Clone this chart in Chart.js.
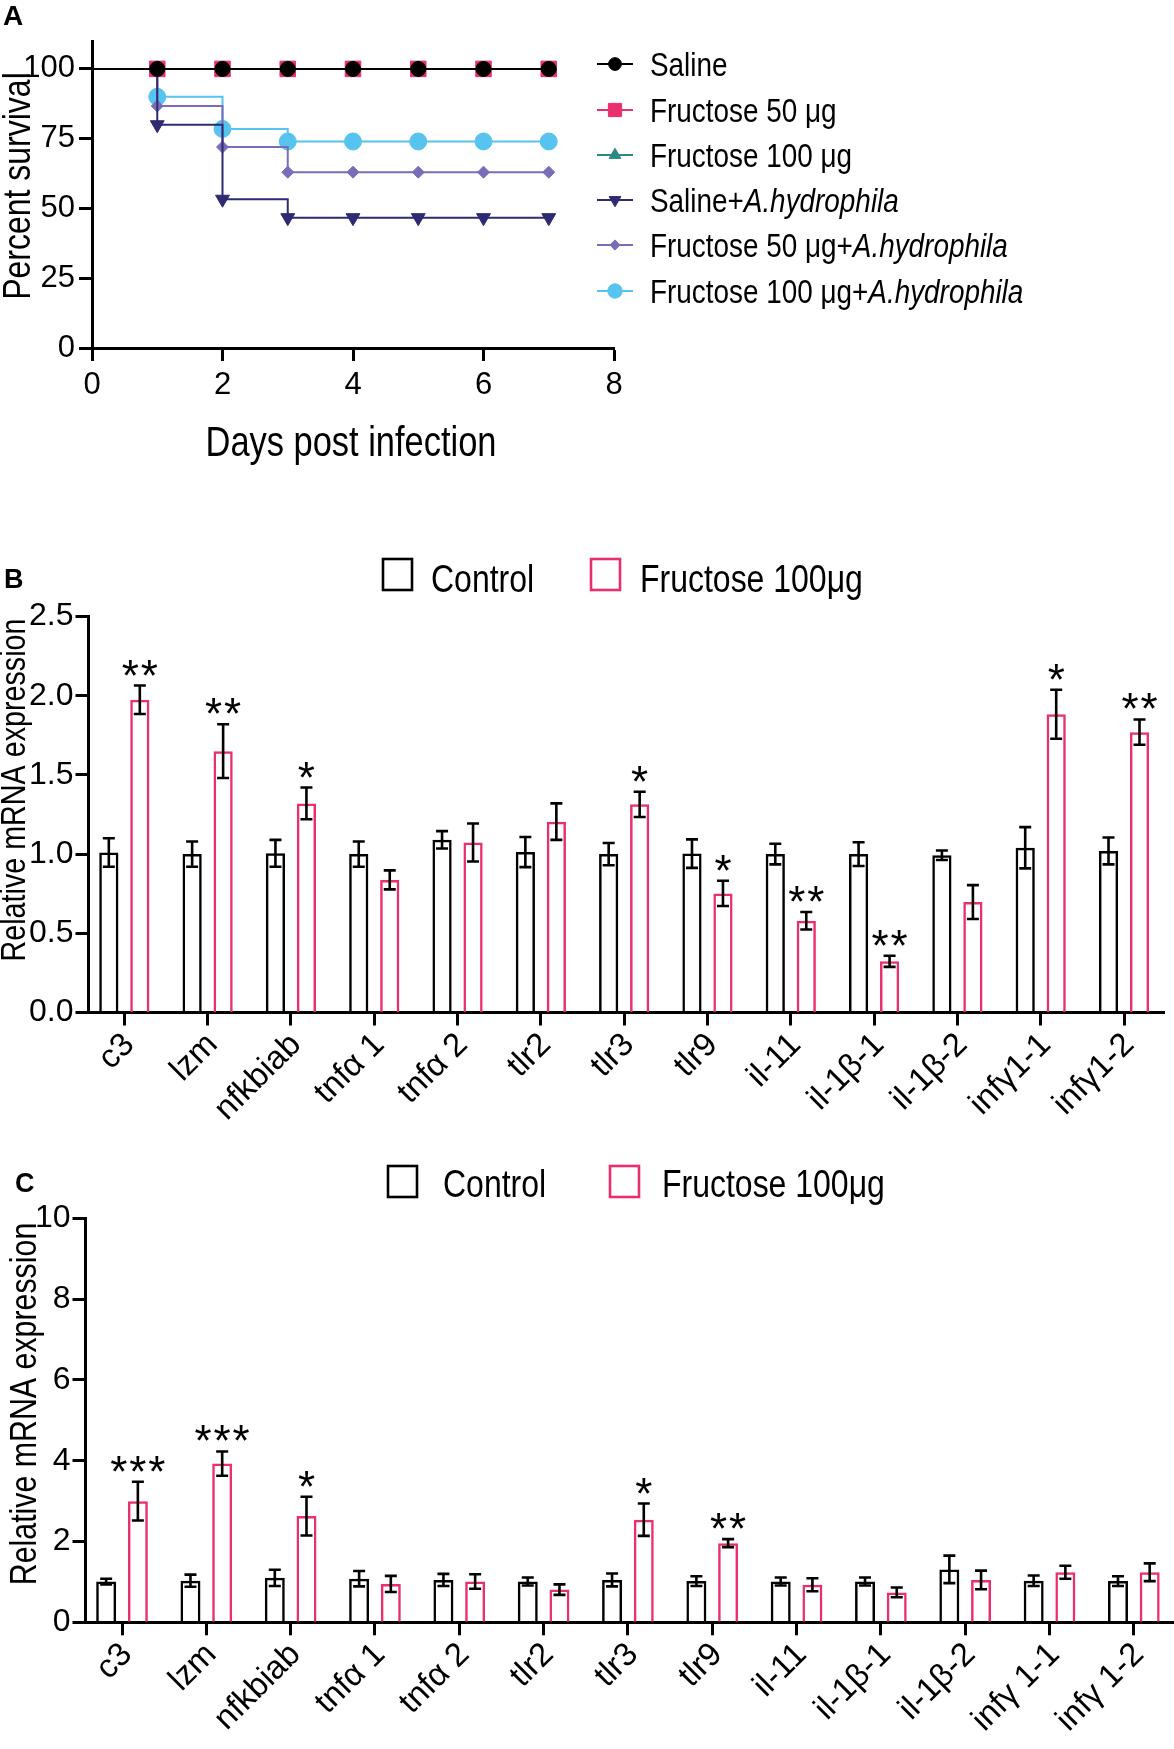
<!DOCTYPE html>
<html><head><meta charset="utf-8">
<script src="https://cdn.jsdelivr.net/npm/chart.js@4.4.1/dist/chart.umd.min.js"></script>
<style>
html,body{margin:0;padding:0;background:#fff;overflow:hidden;width:1174px;height:1749px;}
#wrap{position:relative;width:1174px;height:1749px;overflow:hidden;background:#fff;}
canvas{position:absolute;left:0;}
</style></head><body>
<div id="wrap">
<canvas id="cA" width="1174" height="480" style="top:0px"></canvas>
<canvas id="cB" width="1174" height="630" style="top:490px"></canvas>
<canvas id="cC" width="1180" height="629" style="top:1120px"></canvas>
</div>
<script>
// ---------------- Panel A data ----------------
const days = [0, 1, 2, 3, 4, 5, 6, 7];
const survSaline      = [100, 100, 100, 100, 100, 100, 100, 100];
const survFru50       = [100, 100, 100, 100, 100, 100, 100, 100];
const survFru100      = [100, 100, 100, 100, 100, 100, 100, 100];
const survSalineAh    = [100, 80, 53.3, 46.7, 46.7, 46.7, 46.7, 46.7];
const survFru50Ah     = [100, 86.7, 72, 63, 63, 63, 63, 63];
const survFru100Ah    = [100, 90, 78.5, 74, 74, 74, 74, 74];
const seriesNamesA = ['Saline', 'Fructose 50 μg', 'Fructose 100 μg', 'Saline+A.hydrophila',
                      'Fructose 50 μg+A.hydrophila', 'Fructose 100 μg+A.hydrophila'];
const xTicksA = [0, 2, 4, 6, 8];
const yTicksA = [0, 25, 50, 75, 100];

// ---------------- Panels B / C data ----------------
const genesB = ['c3', 'lzm', 'nfkbiab', 'tnfα 1', 'tnfα 2', 'tlr2', 'tlr3', 'tlr9', 'il-11', 'il-1β-1', 'il-1β-2', 'infγ1-1', 'infγ1-2'];
const genesC = ['c3', 'lzm', 'nfkbiab', 'tnfα 1', 'tnfα 2', 'tlr2', 'tlr3', 'tlr9', 'il-11', 'il-1β-1', 'il-1β-2', 'infγ 1-1', 'infγ 1-2'];
const groupNames = ['Control', 'Fructose 100μg'];

const ctrlB    = [1.01, 1.00, 1.005, 1.00, 1.09, 1.013, 1.00, 1.003, 1.00, 1.00, 0.993, 1.04, 1.02];
const ctrlBErr = [0.09, 0.08, 0.085, 0.08, 0.055, 0.095, 0.07, 0.09, 0.065, 0.075, 0.03, 0.13, 0.085];
const fruB     = [1.974, 1.65, 1.32, 0.837, 1.073, 1.205, 1.314, 0.752, 0.579, 0.323, 0.697, 1.883, 1.77];
const fruBErr  = [0.09, 0.17, 0.10, 0.06, 0.12, 0.115, 0.08, 0.08, 0.055, 0.035, 0.107, 0.155, 0.08];
const starsB   = ['**', '**', '*', '', '', '', '*', '*', '**', '**', '', '*', '**'];
const yTicksB  = [0, 0.5, 1.0, 1.5, 2.0, 2.5];
const yTickLabelsB = ['0.0', '0.5', '1.0', '1.5', '2.0', '2.5'];

const ctrlC    = [1.01, 1.03, 1.10, 1.08, 1.05, 1.01, 1.05, 1.02, 1.01, 1.01, 1.31, 1.03, 1.02];
const ctrlCErr = [0.07, 0.15, 0.20, 0.19, 0.15, 0.10, 0.16, 0.12, 0.10, 0.10, 0.34, 0.13, 0.12];
const fruC     = [3.00, 3.93, 2.63, 0.95, 1.01, 0.81, 2.54, 1.96, 0.93, 0.74, 1.05, 1.24, 1.24];
const fruCErr  = [0.48, 0.30, 0.48, 0.20, 0.18, 0.13, 0.40, 0.10, 0.16, 0.12, 0.23, 0.16, 0.22];
const starsC   = ['***', '***', '*', '', '', '', '*', '**', '', '', '', '', ''];
const yTicksC  = [0, 2, 4, 6, 8, 10];
const yTickLabelsC = ['0', '2', '4', '6', '8', '10'];

// ---------------- fonts ----------------
const REG = '"Liberation Sans", Arial, sans-serif';
const SX = 0.82; // horizontal squeeze used to imitate the condensed face of the original
Chart.defaults.font.family = REG;
Chart.defaults.color = '#000';

function condText(ctx, text, x, y, size, opts) {
  opts = opts || {};
  ctx.save();
  ctx.translate(x, y);
  if (opts.rot) ctx.rotate(opts.rot);
  ctx.scale(SX, 1);
  ctx.font = (opts.italic ? 'italic ' : '') + size + 'px ' + REG;
  ctx.textAlign = opts.align || 'left';
  ctx.textBaseline = opts.baseline || 'alphabetic';
  ctx.fillStyle = '#000';
  ctx.fillText(text, 0, 0);
  const w = ctx.measureText(text).width * SX;
  ctx.restore();
  return w;
}

const PINK = '#e8306e';
const AXIS = { display: true, color: '#000', width: 3 };
const GRID = { display: true, offset: false, drawOnChartArea: false, drawTicks: true, tickLength: 13, tickWidth: 3, tickColor: '#000' };
const fixY = w => s => { s.width = w; s.paddingTop = 0; s.paddingBottom = 0; };
const fixX = h => s => { s.height = h; s.paddingLeft = 0; s.paddingRight = 0; };

// ---------------- Panel A ----------------
const stylesA = [
  { color: '#000000', style: 'circle', r: 7.5, rot: 0 },
  { color: PINK, style: 'rect', r: 11, rot: 0 },
  { color: '#2a8a82', style: 'triangle', r: 8, rot: 0 },
  { color: '#2f2b72', style: 'triangle', r: 8, rot: 180 },
  { color: '#7b6cb8', style: 'rectRot', r: 6, rot: 0 },
  { color: '#56c4ee', style: 'circle', r: 8.5, rot: 0 }
];
const seriesA = [survSaline, survFru50, survFru100, survSalineAh, survFru50Ah, survFru100Ah];

function drawMarker(ctx, st, x, y, r) {
  if (Chart.helpers && Chart.helpers.drawPoint) {
    ctx.fillStyle = st.color; ctx.strokeStyle = st.color; ctx.lineWidth = 1;
    Chart.helpers.drawPoint(ctx, { pointStyle: st.style, rotation: st.rot, radius: r, borderWidth: 1 }, x, y);
  }
}

const decorAPlugin = {
  id: 'decorA',
  afterDraw(chart) {
    const ctx = chart.ctx;
    const ca = chart.chartArea;
    ctx.save();
    ctx.fillStyle = '#000';
    ctx.font = 'bold 28px ' + REG;
    ctx.textAlign = 'left'; ctx.textBaseline = 'alphabetic';
    ctx.fillText('A', 3, 25);
    // axis titles
    condText(ctx, 'Percent survival', 30, 186, 39, { rot: -Math.PI / 2, align: 'center' });
    condText(ctx, 'Days post infection', (ca.left + ca.right) / 2 - 2, 456, 42, { align: 'center' });
    // legend
    const ys = [64, 110, 155, 200, 245, 291];
    seriesNamesA.forEach((name, i) => {
      const st = stylesA[i];
      const y = ys[i];
      ctx.strokeStyle = st.color; ctx.lineWidth = 2;
      ctx.beginPath(); ctx.moveTo(597, y); ctx.lineTo(633, y); ctx.stroke();
      drawMarker(ctx, st, 615, y, st.r * 0.85);
      const parts = name.split('A.hydrophila');
      let x = 650;
      x += condText(ctx, parts[0], x, y + 12, 34);
      if (parts.length > 1) condText(ctx, 'A.hydrophila', x, y + 12, 34, { italic: true });
    });
    ctx.restore();
  }
};

new Chart(document.getElementById('cA'), {
  type: 'line',
  data: {
    datasets: seriesA.map((arr, k) => ({
      label: seriesNamesA[k],
      data: days.map((d, i) => ({ x: d, y: arr[i] })),
      stepped: true,
      borderColor: stylesA[k].color,
      backgroundColor: stylesA[k].color,
      borderWidth: 2,
      pointStyle: stylesA[k].style,
      pointRotation: stylesA[k].rot,
      pointRadius: days.map(d => d === 0 ? 0 : stylesA[k].r),
      pointBorderWidth: 1,
      fill: false
    }))
  },
  options: {
    responsive: false, animation: false, devicePixelRatio: 1,
    layout: { padding: { left: 0, top: 41, right: 560, bottom: 0 } },
    plugins: { legend: { display: false }, tooltip: { enabled: false } },
    scales: {
      x: {
        type: 'linear', min: 0, max: 8, offset: false,
        afterBuildTicks: s => { s.ticks = xTicksA.map(v => ({ value: v })); },
        ticks: { font: { size: 31 }, color: '#000', padding: 6, maxRotation: 0 },
        grid: GRID, border: AXIS,
        afterFit: fixX(132)
      },
      y: {
        type: 'linear', min: 0, max: 110,
        afterBuildTicks: s => { s.ticks = yTicksA.map(v => ({ value: v })); },
        ticks: { font: { size: 31 }, color: '#000', padding: 4 },
        grid: GRID, border: AXIS,
        afterFit: fixY(92)
      }
    }
  },
  plugins: [decorAPlugin]
});

// ---------------- Panels B & C ----------------
function makeBarPanel(cfg) {
  const annot = {
    id: 'annot' + cfg.letter,
    afterDatasetsDraw(chart) {
      const ctx = chart.ctx;
      const ys = chart.scales.y;
      ctx.save();
      // error bars
      cfg.series.forEach((ser, d) => {
        const meta = chart.getDatasetMeta(d);
        meta.data.forEach((el, i) => {
          const top = ys.getPixelForValue(ser.vals[i] + ser.errs[i]);
          const bot = ys.getPixelForValue(ser.vals[i] - ser.errs[i]);
          ctx.strokeStyle = '#000'; ctx.lineWidth = 2.6; ctx.lineCap = 'butt';
          ctx.beginPath();
          ctx.moveTo(el.x, top); ctx.lineTo(el.x, bot);
          ctx.moveTo(el.x - 6, top); ctx.lineTo(el.x + 6, top);
          ctx.moveTo(el.x - 6, bot); ctx.lineTo(el.x + 6, bot);
          ctx.stroke();
        });
      });
      // significance stars above the fructose bars
      const meta = chart.getDatasetMeta(1);
      const ser = cfg.series[1];
      ctx.fillStyle = '#000';
      ctx.font = '44px ' + REG;
      ctx.textAlign = 'center'; ctx.textBaseline = 'alphabetic';
      const m = ctx.measureText('*');
      meta.data.forEach((el, i) => {
        const s = cfg.stars[i];
        if (!s) return;
        const top = ys.getPixelForValue(ser.vals[i] + ser.errs[i]);
        const base = top - 10 - m.actualBoundingBoxDescent;
        const n = s.length, gap = 19;
        for (let k = 0; k < n; k++) {
          ctx.fillText('*', el.x + (k - (n - 1) / 2) * gap, base);
        }
      });
      ctx.restore();
    },
    afterDraw(chart) {
      const ctx = chart.ctx;
      const off = cfg.canvasTop;
      ctx.save();
      ctx.fillStyle = '#000';
      ctx.font = 'bold 27px ' + REG;
      ctx.textAlign = 'left'; ctx.textBaseline = 'alphabetic';
      ctx.fillText(cfg.letter, cfg.letterPos[0], cfg.letterPos[1] - off);
      // legend
      const L = cfg.legend;
      [0, 1].forEach(k => {
        ctx.strokeStyle = k === 0 ? '#000' : PINK;
        ctx.lineWidth = 2.6;
        ctx.strokeRect(L.box[k], L.boxTop - off, 29, 31);
        condText(ctx, groupNames[k], L.text[k], L.base - off, 39);
      });
      // y-axis title
      condText(ctx, 'Relative mRNA expression', cfg.yTitle[0], cfg.yTitle[1] - off, cfg.yTitleSize,
               { rot: -Math.PI / 2, align: 'center' });
      ctx.restore();
    }
  };
  return new Chart(document.getElementById(cfg.id), {
    type: 'bar',
    data: {
      datasets: cfg.series.map((ser, d) => ({
        label: groupNames[d],
        data: ser.vals.map((v, i) => ({ x: i, y: v })),
        backgroundColor: 'rgba(255,255,255,0)',
        borderColor: d === 0 ? '#000' : PINK,
        borderWidth: 2.5,
        borderSkipped: 'start',
        categoryPercentage: cfg.cp,
        barPercentage: cfg.bp
      }))
    },
    options: {
      responsive: false, animation: false, devicePixelRatio: 1,
      layout: { padding: { left: 0, top: cfg.padTop, right: cfg.padRight, bottom: 0 } },
      plugins: { legend: { display: false }, tooltip: { enabled: false } },
      scales: {
        x: {
          type: 'linear', min: cfg.xmin, max: cfg.xmax, offset: false,
          afterBuildTicks: s => { s.ticks = cfg.genes.map((g, i) => ({ value: i })); },
          ticks: { font: { size: 33 }, color: '#000', padding: 0, labelOffset: 5, minRotation: 45, maxRotation: 45,
                   callback: (v) => cfg.genes[v] },
          grid: GRID, border: AXIS,
          afterFit: fixX(cfg.xh)
        },
        y: {
          type: 'linear', min: cfg.yTicks[0], max: cfg.yTicks[cfg.yTicks.length - 1],
          afterBuildTicks: s => { s.ticks = cfg.yTicks.map(v => ({ value: v })); },
          ticks: { font: { size: 32 }, color: '#000', padding: 2, callback: (v, i) => cfg.yLabels[i] },
          grid: GRID, border: AXIS,
          afterFit: fixY(cfg.yw)
        }
      }
    },
    plugins: [annot]
  });
}

makeBarPanel({
  id: 'cB', letter: 'B', canvasTop: 490, letterPos: [4, 588],
  genes: genesB, stars: starsB,
  series: [{ vals: ctrlB, errs: ctrlBErr }, { vals: fruB, errs: fruBErr }],
  yTicks: yTicksB, yLabels: yTickLabelsB,
  xmin: -0.43, xmax: 12.48, cp: 0.744, bp: 0.62,
  padTop: 126.5, padRight: 10, xh: 107.5, yw: 88.5,
  legend: { box: [383, 591], boxTop: 559, text: [431, 640], base: 592 },
  yTitle: [25, 790], yTitleSize: 35
});

makeBarPanel({
  id: 'cC', letter: 'C', canvasTop: 1120, letterPos: [15, 1192],
  genes: genesC, stars: starsC,
  series: [{ vals: ctrlC, errs: ctrlCErr }, { vals: fruC, errs: fruCErr }],
  yTicks: yTicksC, yLabels: yTickLabelsC,
  xmin: -0.433, xmax: 12.5, cp: 0.752, bp: 0.63,
  padTop: 98.4, padRight: 4, xh: 126.7, yw: 85.5,
  legend: { box: [388, 610], boxTop: 1166, text: [443, 662], base: 1197 },
  yTitle: [36, 1404], yTitleSize: 37
});
</script>
</body></html>
